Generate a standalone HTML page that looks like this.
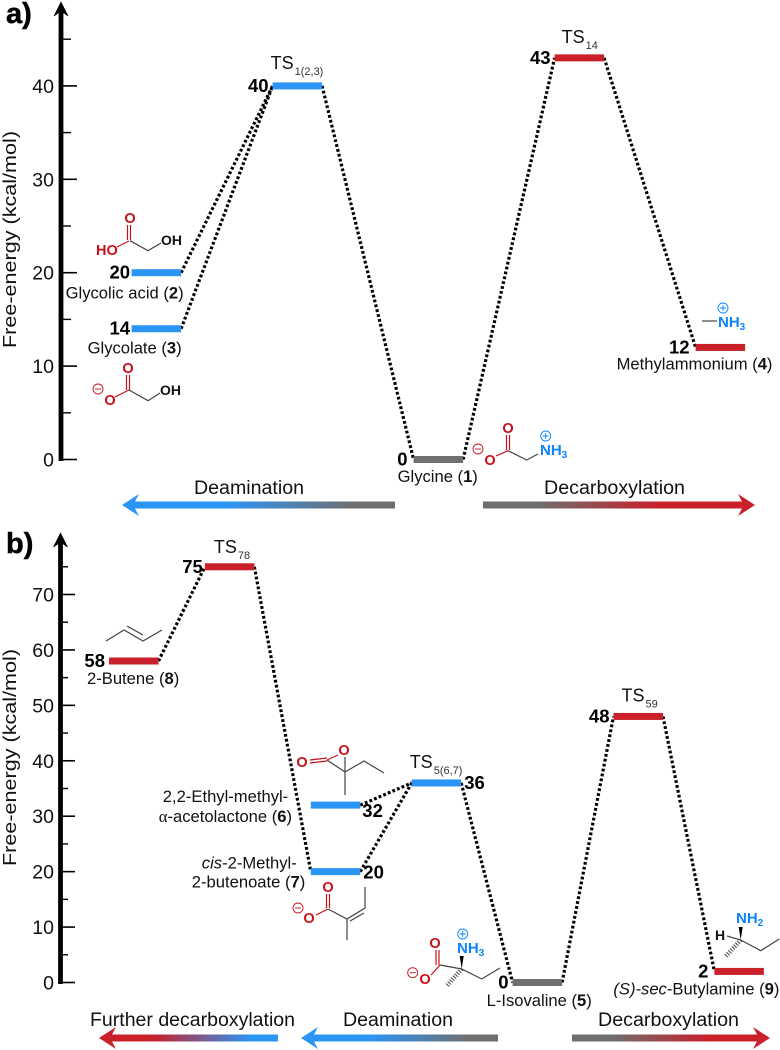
<!DOCTYPE html>
<html>
<head>
<meta charset="utf-8">
<title>Free-energy diagrams</title>
<style>
html,body{margin:0;padding:0;background:#fff;}
svg{display:block;}
text{font-family:"Liberation Sans",sans-serif;fill:#111;}
.tick{font-size:19.5px;text-anchor:end;}
.val{font-size:18.5px;font-weight:bold;fill:#000;}
.cap{font-size:16.6px;}
.ts{font-size:18px;}
.sub{font-size:11px;}
.proc{font-size:19px;}
.red{fill:#c8101a;font-weight:bold;font-size:14.5px;}
.blue{fill:#0a84ff;font-weight:bold;font-size:15px;}
.blk{fill:#111;font-weight:bold;font-size:14px;}
.bond{stroke:#444;stroke-width:1.2;fill:none;}
.rbond{stroke:#c8101a;stroke-width:1.2;fill:none;}
.circ{fill:none;stroke-width:0.9;}
</style>
</head>
<body>
<svg id="chart" xmlns="http://www.w3.org/2000/svg" width="780" height="1050" viewBox="0 0 780 1050">
<defs>
<linearGradient id="g-a-deam" gradientUnits="userSpaceOnUse" x1="395" y1="0" x2="122" y2="0"><stop offset="0.15" stop-color="#6f6f6f"/><stop offset="0.62" stop-color="#2b95f6"/></linearGradient>
<linearGradient id="g-a-dec" gradientUnits="userSpaceOnUse" x1="483" y1="0" x2="755" y2="0"><stop offset="0.2" stop-color="#6f6f6f"/><stop offset="0.65" stop-color="#c9202a"/></linearGradient>
<linearGradient id="g-b-fur" gradientUnits="userSpaceOnUse" x1="278" y1="0" x2="99" y2="0"><stop offset="0.15" stop-color="#2b95f6"/><stop offset="0.7" stop-color="#c9202a"/></linearGradient>
<linearGradient id="g-b-deam" gradientUnits="userSpaceOnUse" x1="498" y1="0" x2="301" y2="0"><stop offset="0.15" stop-color="#6f6f6f"/><stop offset="0.65" stop-color="#2b95f6"/></linearGradient>
<linearGradient id="g-b-dec" gradientUnits="userSpaceOnUse" x1="572" y1="0" x2="770" y2="0"><stop offset="0.2" stop-color="#6f6f6f"/><stop offset="0.7" stop-color="#c9202a"/></linearGradient>
</defs>

<text x="6" y="23" font-size="29" font-weight="bold" style="fill:#000;stroke:#000;stroke-width:.5">a)</text>
<text x="6" y="553" font-size="29" font-weight="bold" style="fill:#000;stroke:#000;stroke-width:.5">b)</text>
<text transform="translate(16,348) rotate(-90)" font-size="18.8" textLength="217" lengthAdjust="spacingAndGlyphs">Free-energy (kcal/mol)</text>
<text transform="translate(16,866) rotate(-90)" font-size="18.8" textLength="217" lengthAdjust="spacingAndGlyphs">Free-energy (kcal/mol)</text>

<g>
<path d="M395 501.5H135L139 494L122 505L139 516L135 508.5H395Z" fill="url(#g-a-deam)"/>
<path d="M483 501.5H742L738 494L755 505L738 516L742 508.5H483Z" fill="url(#g-a-dec)"/>
<path d="M278 1034.5H112L116 1027L99 1038L116 1049L112 1041.5H278Z" fill="url(#g-b-fur)"/>
<path d="M498 1034.5H314L318 1027L301 1038L318 1049L314 1041.5H498Z" fill="url(#g-b-deam)"/>
<path d="M572 1034.5H757L753 1027L770 1038L753 1049L757 1041.5H572Z" fill="url(#g-b-dec)"/>
<text class="proc" x="194" y="494" textLength="110" lengthAdjust="spacingAndGlyphs">Deamination</text>
<text class="proc" x="544" y="494" textLength="141" lengthAdjust="spacingAndGlyphs">Decarboxylation</text>
<text class="proc" x="90" y="1026" textLength="205" lengthAdjust="spacingAndGlyphs">Further decarboxylation</text>
<text class="proc" x="343" y="1026" textLength="110" lengthAdjust="spacingAndGlyphs">Deamination</text>
<text class="proc" x="598" y="1026" textLength="141" lengthAdjust="spacingAndGlyphs">Decarboxylation</text>
</g>

<g>
<text class="red" x="130" y="223" text-anchor="middle">O</text>
<path class="rbond" d="M127.5 240V225M130.5 240V225"/>
<path class="rbond" d="M117 247L129 241"/>
<path class="bond" d="M130 240.7L148 250.7L161 243"/>
<text class="red" x="96" y="255">HO</text>
<text class="blk" x="161" y="245">OH</text>
</g>
<g>
<text class="red" x="128" y="373" text-anchor="middle">O</text>
<path class="rbond" d="M126.5 390V375M129.5 390V375"/>
<path class="rbond" d="M115 397L129 390"/>
<path class="bond" d="M129 390L148 400.7L160 393"/>
<text class="red" x="110" y="405" text-anchor="middle">O</text>
<text class="blk" x="160" y="395">OH</text>
<circle class="circ" cx="98" cy="389" r="5" stroke="#c8101a"/><path d="M95 389H101" stroke="#c8101a" stroke-width=".9"/>
</g>
<g>
<text class="red" x="508" y="433" text-anchor="middle">O</text>
<path class="rbond" d="M506.5 450V435M509.5 450V435"/>
<path class="rbond" d="M496 456L508 450.7"/>
<path class="bond" d="M508 450.7L526.7 460L538 454"/>
<text class="red" x="490" y="465" text-anchor="middle">O</text>
<text class="blue" x="540" y="455">NH<tspan font-size="10" dy="3">3</tspan></text>
<circle class="circ" cx="545.7" cy="436" r="5" stroke="#0a84ff"/><path d="M542.7 436H548.7M545.7 433V439" stroke="#0a84ff" stroke-width=".9"/>
<circle class="circ" cx="478" cy="449" r="5" stroke="#c8101a"/><path d="M475 449H481" stroke="#c8101a" stroke-width=".9"/>
</g>
<g>
<path class="bond" d="M702 321H717"/>
<text class="blue" x="718" y="327">NH<tspan font-size="10" dy="3">3</tspan></text>
<circle class="circ" cx="723" cy="308" r="5" stroke="#0a84ff"/><path d="M720 308H726M723 305V311" stroke="#0a84ff" stroke-width=".9"/>
</g>
<g>
<path class="bond" d="M106 641L124 630L143 641L162 630M127 626L143 635"/>
</g>
<g>
<text class="red" x="302" y="767" text-anchor="middle">O</text>
<text class="red" x="344" y="755" text-anchor="middle">O</text>
<path class="rbond" d="M310 760L327 758M310 763L327 761M327 760L338 755"/>
<path class="bond" d="M327 760L345 772M345 757V795M345 772L364 761L384 773"/>
</g>
<g>
<text class="red" x="328" y="892" text-anchor="middle">O</text>
<path class="rbond" d="M326.5 908V894M329.5 908V894M316 915L328 909"/>
<text class="red" x="309" y="923" text-anchor="middle">O</text>
<path class="bond" d="M328 909L347 919L365 908V887M350 921L364 913M347 919V940"/>
<circle class="circ" cx="298" cy="908" r="5" stroke="#c8101a"/><path d="M295 908H301" stroke="#c8101a" stroke-width=".9"/>
</g>
<g>
<text class="red" x="435" y="948" text-anchor="middle">O</text>
<path class="rbond" d="M436 965V950M439 965V950M431 975L440 965"/>
<path class="bond" d="M440 965L461.7 969L481.7 979L500 968"/>
<path d="M461.7 969L459.7 956H463.7Z" fill="#000"/>
<path d="M461.7 969L446.7 986" stroke="#444" stroke-width="4.5" stroke-dasharray="1 1.6" fill="none"/>
<text class="red" x="425" y="984" text-anchor="middle">O</text>
<text class="blue" x="457" y="953">NH<tspan font-size="10" dy="3">3</tspan></text>
<circle class="circ" cx="462.7" cy="934" r="5" stroke="#0a84ff"/><path d="M459.7 934H465.7M462.7 931V937" stroke="#0a84ff" stroke-width=".9"/>
<circle class="circ" cx="412.7" cy="972.7" r="5" stroke="#c8101a"/><path d="M409.7 972.7H415.7" stroke="#c8101a" stroke-width=".9"/>
</g>
<g>
<text class="blue" x="736" y="923">NH<tspan font-size="10" dy="3">2</tspan></text>
<text class="blk" x="715" y="940">H</text>
<path class="bond" d="M727 936L740.7 940L760.7 950.7L779.3 939"/>
<path d="M740.7 940L738.7 927H742.7Z" fill="#000"/>
<path d="M740.7 940L725 957" stroke="#444" stroke-width="4.5" stroke-dasharray="1 1.6" fill="none"/>
</g>

<g id="plot"></g>
</svg>

<script>
// Panel a data
const aStates = ['glycolic-acid', 'glycolate', 'ts-1-2-3', 'glycine', 'ts-14', 'methylammonium'];
const aEnergy = [20, 14, 40, 0, 43, 12];
const aCoord = [0, 0, 1, 2, 3, 4];
const aKinds = ['deam', 'deam', 'deam', 'ref', 'dec', 'dec'];
const aLinks = [[0, 2], [1, 2], [2, 3], [3, 4], [4, 5]];
const aMajorTicks = [0, 10, 20, 30, 40];
const aMinorTicks = [5, 15, 25, 35, 45];

// Panel b data
const bStates = ['2-butene', 'ts-78', 'acetolactone', 'butenoate', 'ts-5-6-7', 'isovaline', 'ts-59', 'butylamine'];
const bEnergy = [58, 75, 32, 20, 36, 0, 48, 2];
const bCoord = [0, 0.95, 2, 2, 3, 4, 5, 6];
const bKinds = ['dec', 'dec', 'deam', 'deam', 'deam', 'ref', 'dec', 'dec'];
const bLinks = [[0, 1], [1, 3], [2, 4], [3, 4], [4, 5], [5, 6], [6, 7]];
const bMajorTicks = [0, 10, 20, 30, 40, 50, 60, 70];
const bMinorTicks = [5, 15, 25, 35, 45, 55, 65, 75];

const NS = 'http://www.w3.org/2000/svg';
const plot = document.getElementById('plot');
const kindColor = {deam: '#2b95f6', dec: '#c9202a', ref: '#6f6f6f'};
const BAR_W = 49.5;

const yA = v => 459.5 - v * 9.34;
const xA = c => 131.6 + c * 141;
const yB = v => 982.5 - v * 5.543;
const xB = c => 109 + c * 100.9;

function svgEl(tag, attrs) {
  const el = document.createElementNS(NS, tag);
  for (const k in attrs) el.setAttribute(k, attrs[k]);
  plot.appendChild(el);
  return el;
}

function drawAxis(prefix, y, axisX, top, bottom, majors, minors, majorEnd, minorEnd) {
  const line = svgEl('line', {x1: axisX, x2: axisX, y1: top + 8, y2: bottom, stroke: '#000', 'stroke-width': 4.8});
  
  
  const head = svgEl('path', {d: `M${axisX} ${top}L${axisX + 7} ${top + 14}L${axisX} ${top + 9}L${axisX - 7} ${top + 14}Z`, fill: '#000', stroke: '#000', 'stroke-width': 0.6});
  
  
  majors.forEach(v => {
    const t = svgEl('line', {x1: axisX, x2: majorEnd, y1: y(v), y2: y(v), stroke: '#000', 'stroke-width': 1.6});
    
    
    const l = svgEl('text', {x: 54, y: y(v) + 7, class: 'tick'});
    l.textContent = v;
    
    
  });
  minors.forEach(v => {
    const t = svgEl('line', {x1: axisX, x2: minorEnd, y1: y(v), y2: y(v), stroke: '#000', 'stroke-width': 1.4});
    
    
  });
}

function drawLevels(prefix, states, energy, coord, kinds, links, x, y) {
  links.forEach(([from, to]) => {
    const fromLeft = coord[from] < coord[to];
    const x1 = fromLeft ? x(coord[from]) + BAR_W : x(coord[from]);
    const x2 = fromLeft ? x(coord[to]) : x(coord[to]) + BAR_W;
    const ln = svgEl('line', {x1: x1, y1: y(energy[from]), x2: x2, y2: y(energy[to]), stroke: '#000', 'stroke-width': 3.2, 'stroke-dasharray': '2.8 2.2'});
    
    
  });
  states.forEach((s, i) => {
    const r = svgEl('rect', {x: x(coord[i]), y: y(energy[i]) - 3.5, width: BAR_W, height: 7, fill: kindColor[kinds[i]]});
    
    
  });
}

function valueLeft(prefix, states, energy, coord, x, y, i, gap, dy) {
  const t = svgEl('text', {x: x(coord[i]) - gap, y: y(energy[i]) + dy, class: 'val', 'text-anchor': 'end'});
  t.textContent = energy[i];
  
  
}

function valueRight(prefix, states, energy, coord, x, y, i, gap, dy) {
  const t = svgEl('text', {x: x(coord[i]) + BAR_W + gap, y: y(energy[i]) + dy, class: 'val'});
  t.textContent = energy[i];
  
  
}

function caption(name, barX, barY, dx, dy, markup, cls) {
  const t = svgEl('text', {x: barX + dx, y: barY + dy, class: cls || 'cap'});
  t.innerHTML = markup;
  
  
}

function tsLabel(name, barX, barY, dx, dy, sub) {
  caption(name, barX, barY, dx, dy, 'TS<tspan class="sub" dy="6" dx="1" fill="#333">' + sub + '</tspan>', 'ts');
}

drawAxis('panel-a', yA, 61, 2, 461, aMajorTicks, aMinorTicks, 77, 71);
drawLevels('panel-a', aStates, aEnergy, aCoord, aKinds, aLinks, xA, yA);
drawAxis('panel-b', yB, 60.5, 533, 984, bMajorTicks, bMinorTicks, 75, 68);
drawLevels('panel-b', bStates, bEnergy, bCoord, bKinds, bLinks, xB, yB);

const ax = i => xA(aCoord[i]);
const ay = i => yA(aEnergy[i]);
const bx = i => xB(bCoord[i]);
const by = i => yB(bEnergy[i]);

[0, 1].forEach(i => valueLeft('panel-a', aStates, aEnergy, aCoord, xA, yA, i, 1.5, 6));
[2, 4].forEach(i => valueLeft('panel-a', aStates, aEnergy, aCoord, xA, yA, i, 4, 6));
valueLeft('panel-a', aStates, aEnergy, aCoord, xA, yA, 3, 6, 6);
valueLeft('panel-a', aStates, aEnergy, aCoord, xA, yA, 5, 6, 6);

valueLeft('panel-b', bStates, bEnergy, bCoord, xB, yB, 0, 4, 6);
valueLeft('panel-b', bStates, bEnergy, bCoord, xB, yB, 1, 2, 6);
valueLeft('panel-b', bStates, bEnergy, bCoord, xB, yB, 6, 4, 6);
valueRight('panel-b', bStates, bEnergy, bCoord, xB, yB, 2, 2, 12);
valueRight('panel-b', bStates, bEnergy, bCoord, xB, yB, 3, 3, 7);
valueRight('panel-b', bStates, bEnergy, bCoord, xB, yB, 4, 3, 6);
valueLeft('panel-b', bStates, bEnergy, bCoord, xB, yB, 5, 4, 6);
valueLeft('panel-b', bStates, bEnergy, bCoord, xB, yB, 7, 6, 6);

caption('glycolic-acid-caption', ax(0), ay(0), -66, 26, 'Glycolic acid (<tspan font-weight="bold">2</tspan>)');
caption('glycolate-caption', ax(1), ay(1), -44, 25, 'Glycolate (<tspan font-weight="bold">3</tspan>)');
caption('glycine-caption', ax(3), ay(3), -16, 22.5, 'Glycine (<tspan font-weight="bold">1</tspan>)');
caption('methylammonium-caption', ax(5), ay(5), -79, 22, 'Methylammonium (<tspan font-weight="bold">4</tspan>)');
tsLabel('ts-1-2-3-label', ax(2), ay(2), -2, -17, '1(2,3)');
tsLabel('ts-14-label', ax(4), ay(4), 7, -15, '14');

caption('2-butene-caption', bx(0), by(0), -22, 23, '2-Butene (<tspan font-weight="bold">8</tspan>)');
caption('acetolactone-caption-line-1', bx(2), by(2), -148, -3, '2,2-Ethyl-methyl-');
caption('acetolactone-caption-line-2', bx(2), by(2), -152, 17, '<tspan font-family="Liberation Serif">α</tspan>-acetolactone (<tspan font-weight="bold">6</tspan>)');
caption('butenoate-caption-line-1', bx(3), by(3), -109, -3, '<tspan font-style="italic">cis</tspan>-2-Methyl-');
caption('butenoate-caption-line-2', bx(3), by(3), -119, 16, '2-butenoate (<tspan font-weight="bold">7</tspan>)');
caption('isovaline-caption', bx(5), by(5), -26, 23.5, 'L-Isovaline (<tspan font-weight="bold">5</tspan>)');
caption('butylamine-caption', bx(7), by(7), -101, 23, '<tspan font-style="italic">(S)-sec</tspan>-Butylamine (<tspan font-weight="bold">9</tspan>)');
tsLabel('ts-78-label', bx(1), by(1), 9, -14, '78');
tsLabel('ts-5-6-7-label', bx(4), by(4), -2, -15, '5(6,7)');
tsLabel('ts-59-label', bx(6), by(6), 8, -15, '59');
</script>
</body>
</html>
